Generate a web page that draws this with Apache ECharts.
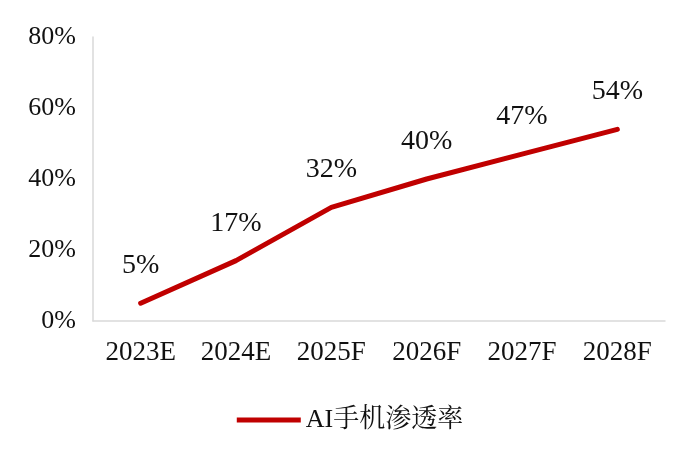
<!DOCTYPE html>
<html>
<head>
<meta charset="utf-8">
<script src="https://cdn.jsdelivr.net/npm/echarts@6/dist/echarts.min.js"></script>
<style>
  html, body { margin: 0; padding: 0; background: #fff; }
  #chart { width: 700px; height: 464px; }
</style>
</head>
<body>
<div id="chart"></div>
<script>
const categories = ['2023E', '2024E', '2025F', '2026F', '2027F', '2028F']
const penetration = [5, 17, 32, 40, 47, 54]
const seriesName = 'AI手机渗透率'
const yTicks = [0, 20, 40, 60, 80]

const serif = '"Liberation Serif", "Noto Serif CJK SC", "Noto Sans CJK SC", serif'
const red = '#C00000'

const myChart = echarts.init(document.getElementById('chart'))
const option = {
  backgroundColor: '#fff',
  animation: false,
  color: [red],
  legend: {
    data: [seriesName],
    bottom: 26,
    left: 'center',
    icon: 'rect',
    itemWidth: 64,
    itemHeight: 5,
    itemGap: 8,
    itemStyle: { color: red, opacity: 1 },
    textStyle: { fontFamily: serif, fontSize: 26, color: '#111' },
  },
  grid: {
    left: 93,
    right: 35,
    top: 37,
    bottom: 143,
  },
  xAxis: [
    {
      type: 'category',
      boundaryGap: true,
      data: categories,
      axisLine: { lineStyle: { color: '#d9d9d9', width: 1.5 } },
      axisTick: { show: false },
      axisLabel: { fontFamily: serif, fontSize: 27, color: '#111', margin: 18 },
    },
  ],
  yAxis: [
    {
      type: 'value',
      min: yTicks[0],
      max: yTicks[yTicks.length - 1],
      interval: 20,
      axisLine: { show: true, lineStyle: { color: '#d9d9d9', width: 1.5 } },
      axisTick: { show: false },
      splitLine: { show: false },
      axisLabel: {
        fontFamily: serif,
        fontSize: 26,
        color: '#111',
        margin: 17,
        formatter: '{value}%',
      },
    },
  ],
  series: [
    {
      name: seriesName,
      type: 'line',
      data: penetration,
      symbol: 'circle',
      symbolSize: 1,
      showSymbol: true,
      itemStyle: { color: red, opacity: 0 },
      lineStyle: { width: 5, color: red, cap: 'round', join: 'round' },
      label: {
        show: true,
        position: 'top',
        distance: 23,
        formatter: '{c}%',
        fontFamily: serif,
        fontSize: 28,
        color: '#111',
        opacity: 1,
      },
    },
  ],
}
myChart.setOption(option, true)
</script>
</body>
</html>
